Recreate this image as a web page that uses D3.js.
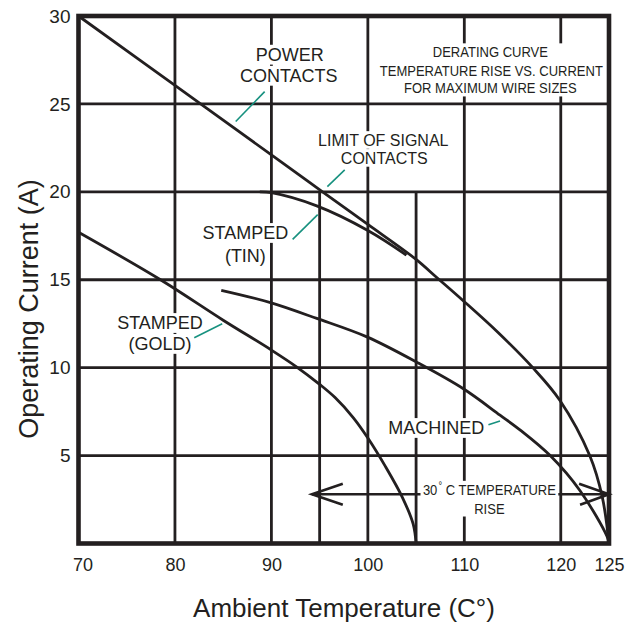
<!DOCTYPE html>
<html><head><meta charset="utf-8">
<script src="https://cdn.jsdelivr.net/npm/d3@7"></script>
<style>
body{margin:0;background:#fff}
svg{display:block}
text{font-family:"Liberation Sans",Arial,Helvetica,sans-serif;fill:#231f20}
</style>
</head><body>
<svg id="c" width="625" height="626"></svg>
<script>
// ---------- data ----------
const xTicks = [70, 80, 90, 100, 110, 120, 125];
const yTicks = [5, 10, 15, 20, 25, 30];
const gridTemps = [80, 90, 100, 110, 120];
const shortGridTemps = [95, 105];      // drawn from 0 A up to 20 A
const shortGridTop = 20;
const gridCurrents = [5, 10, 15, 20, 25];

const powerTemp    = [70, 80, 90, 95.3, 100, 104.9, 107.2, 109.8, 113.5, 117.1, 119.9, 123.0, 124.3, 125];
const powerCurrent = [30, 26.05, 22.1, 20.0, 18.15, 16.2, 15.1, 13.85, 12.0, 10.0, 8.15, 5.0, 2.65, 0];

const tinTemp    = [88.8, 90, 94.7, 100, 104];
const tinCurrent = [20.0, 19.95, 19.2, 17.8, 16.4];

const goldTemp    = [70, 78.5, 85, 90, 92.6, 95, 96.6, 98.5, 100, 101.8, 103.6, 104.7, 105];
const goldCurrent = [17.7, 15.0, 12.7, 11.0, 10.05, 9.05, 8.3, 7.15, 6.0, 4.4, 2.6, 1.1, 0];

const machinedTemp    = [84.8, 89.9, 94.7, 99.9, 105.1, 109.9, 113.7, 115.8, 118.9, 122.0, 124.8, 125];
const machinedCurrent = [14.4, 13.7, 12.8, 11.75, 10.3, 8.8, 7.3, 6.45, 5.0, 3.0, 0.4, 0];

const riseCurrent = 2.8;      // level of the 30 °C rise arrow
const riseFrom = 94.2, riseTo = 125;

const xTitle = "Ambient Temperature (C°)";
const yTitle = "Operating Current (A)";

// ---------- setup ----------
const ink = "#231f20", teal = "#17917f";
const x = d3.scaleLinear().domain([70, 125]).range([78.5, 609]);
const y = d3.scaleLinear().domain([0, 30]).range([543.5, 16]);
const svg = d3.select("#c");

// grid
const grid = svg.append("g").attr("stroke", ink).attr("stroke-width", 2.8);
grid.selectAll("line.gv").data(gridTemps).join("line").attr("class", "gv")
  .attr("x1", d => x(d)).attr("x2", d => x(d)).attr("y1", y(0)).attr("y2", y(30));
grid.selectAll("line.gs").data(shortGridTemps).join("line").attr("class", "gs")
  .attr("x1", d => x(d)).attr("x2", d => x(d)).attr("y1", y(0)).attr("y2", y(shortGridTop));
grid.selectAll("line.gh").data(gridCurrents).join("line").attr("class", "gh")
  .attr("y1", d => y(d)).attr("y2", d => y(d)).attr("x1", x(70)).attr("x2", x(125));

// rise arrow
const ag = svg.append("g").attr("stroke", ink).attr("stroke-width", 2.6).attr("fill", "none");
ag.append("line").attr("x1", x(riseFrom)).attr("x2", x(riseTo)).attr("y1", y(riseCurrent)).attr("y2", y(riseCurrent));
ag.append("polyline").attr("points", [
  [x(riseFrom + 3.2), y(riseCurrent + 0.6)], [x(riseFrom), y(riseCurrent)], [x(riseFrom + 3.2), y(riseCurrent - 0.6)]
].map(p => p.join(",")).join(" "));
ag.append("polyline").attr("points", [
  [x(riseTo - 3.1), y(riseCurrent + 0.6)], [x(riseTo), y(riseCurrent)], [x(riseTo - 3.0), y(riseCurrent - 0.6)]
].map(p => p.join(",")).join(" "));

// annotation labels (with white knock-out boxes)
const labels = [
  {box: "line", size: 18, sx: 1, lines: [["POWER", 91.9, 27.8], ["CONTACTS", 91.8, 26.6]]},
  {box: "line", size: 16, sx: 1, lines: [["LIMIT OF SIGNAL", 101.6, 22.95], ["CONTACTS", 101.7, 21.93]]},
  {box: "group", size: 15.5, sx: 0.84, lines: [["DERATING CURVE", 112.7, 27.96], ["TEMPERATURE RISE VS. CURRENT", 112.8, 26.93], ["FOR MAXIMUM WIRE SIZES", 112.7, 25.91]]},
  {box: "line", size: 18, sx: 1, lines: [["STAMPED", 87.3, 17.66], ["(TIN)", 87.3, 16.35]]},
  {box: "line", size: 18, sx: 1, lines: [["STAMPED", 78.45, 12.54], ["(GOLD)", 78.45, 11.35]]},
  {box: "line", size: 18, sx: 1, lines: [["MACHINED", 107.1, 6.57]]},
  {box: "group", size: 15.5, sx: 0.84, lines: [["30° C TEMPERATURE", 112.6, 3.08], ["RISE", 112.6, 2.02]]}
];
const leaders = [
  [89.3, 25.7, 86.3, 24.0],
  [97.6, 21.25, 95.8, 20.3],
  [94.8, 18.7, 92.2, 17.3],
  [84.9, 12.5, 82.0, 11.7],
  [112.5, 6.75, 113.7, 6.97]
];

const boxLayer = svg.append("g");
const curveLayer = svg.append("g");
const textLayer = svg.append("g");

labels.forEach(lab => {
  const boxes = [];
  lab.lines.forEach(([t, tx, ty]) => {
    const px = x(tx), py = y(ty);
    const te = textLayer.append("text")
      .attr("transform", `translate(${px},${py}) scale(${lab.sx},1)`)
      .attr("text-anchor", "middle").attr("font-size", lab.size)
      .attr("y", lab.size * 0.36);
    if (t.includes("°")) {
      const [a, b] = t.split("°");
      te.append("tspan").text(a);
      te.append("tspan").text("°").attr("font-size", lab.size * 0.7).attr("dy", -lab.size * 0.38).attr("dx", 1.5);
      te.append("tspan").text(b).attr("dy", lab.size * 0.38);
    } else te.text(t);
    const w = te.node().getComputedTextLength() * lab.sx;
    boxes.push([px - w / 2 - 3, py - lab.size * 0.55, px + w / 2 + 3, py + lab.size * 0.55]);
  });
  const drawBox = b => boxLayer.append("rect").attr("x", b[0]).attr("y", b[1])
    .attr("width", b[2] - b[0]).attr("height", b[3] - b[1]).attr("fill", "#fff");
  if (lab.box === "group") {
    drawBox([d3.min(boxes, b => b[0]), d3.min(boxes, b => b[1]), d3.max(boxes, b => b[2]), d3.max(boxes, b => b[3])]);
  } else boxes.forEach(drawBox);
});

// curves
const line = d3.line().x(d => x(d[0])).y(d => y(d[1])).curve(d3.curveCatmullRom.alpha(0.5));
const series = [
  [powerTemp, powerCurrent], [tinTemp, tinCurrent], [goldTemp, goldCurrent], [machinedTemp, machinedCurrent]
];
curveLayer.selectAll("path").data(series).join("path")
  .attr("d", s => line(s[0].map((t, i) => [t, s[1][i]])))
  .attr("fill", "none").attr("stroke", ink).attr("stroke-width", 2.8);

// leaders
curveLayer.selectAll("line.ld").data(leaders).join("line").attr("class", "ld")
  .attr("x1", d => x(d[0])).attr("y1", d => y(d[1])).attr("x2", d => x(d[2])).attr("y2", d => y(d[3]))
  .attr("stroke", teal).attr("stroke-width", 1.6);

// frame
svg.append("rect").attr("x", x(70)).attr("y", y(30)).attr("width", x(125) - x(70)).attr("height", y(0) - y(30))
  .attr("fill", "none").attr("stroke", ink).attr("stroke-width", 4.6);

// axes
const ax = svg.append("g").attr("transform", `translate(0,${y(0)})`)
  .call(d3.axisBottom(x).tickValues(xTicks).tickSize(0).tickPadding(15).tickFormat(d3.format("d")));
ax.select(".domain").remove();
ax.selectAll("text").attr("font-size", 18).attr("font-family", null).style("fill", ink)
  .attr("dx", d => d === 70 ? 4 : 0);

const ay = svg.append("g").attr("transform", `translate(${x(70)},0)`)
  .call(d3.axisLeft(y).tickValues(yTicks).tickSize(0).tickPadding(8).tickFormat(d3.format("d")));
ay.select(".domain").remove();
ay.selectAll("text").attr("font-size", 19).attr("font-family", null).style("fill", ink);

// titles
svg.append("text").attr("x", 344).attr("y", 617).attr("text-anchor", "middle")
  .attr("font-size", 26).text(xTitle);
svg.append("text").attr("transform", "translate(38,309) rotate(-90)").attr("text-anchor", "middle")
  .attr("font-size", 27).text(yTitle);
</script>
</body></html>
